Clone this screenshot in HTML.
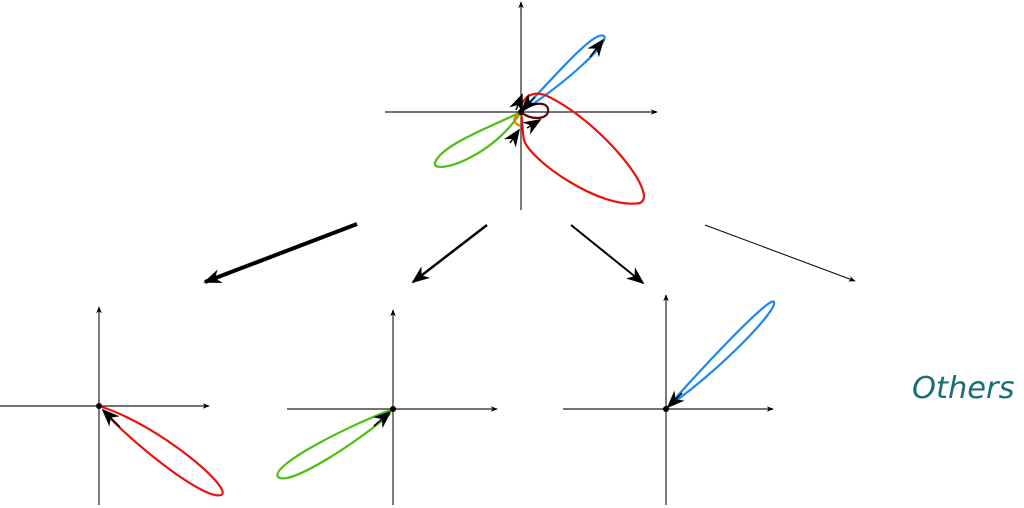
<!DOCTYPE html>
<html><head><meta charset="utf-8"><style>html,body{margin:0;padding:0;background:#fff;width:1024px;height:508px;overflow:hidden}</style></head>
<body>
<svg width="1024" height="508" viewBox="0 0 1024 508" xmlns="http://www.w3.org/2000/svg">
<defs>
<marker id="ah" viewBox="0 0 10 10" refX="9" refY="5" markerWidth="7" markerHeight="7" orient="auto" markerUnits="userSpaceOnUse"><path d="M0,1 L10,5 L0,9 L3,5z" fill="#000"/></marker>
<marker id="big" viewBox="0 0 10 10" refX="9" refY="5" markerWidth="18" markerHeight="18" orient="auto" markerUnits="userSpaceOnUse"><path d="M0,1 L10,5 L0,9 L3,5z" fill="#000"/></marker>
</defs>
<g stroke="#222" stroke-width="1.2" fill="none">
<line x1="385" y1="112" x2="657" y2="112" marker-end="url(#ah)"/>
<line x1="521" y1="210" x2="521" y2="2" marker-end="url(#ah)"/>
<line x1="0" y1="406" x2="209" y2="406" marker-end="url(#ah)"/>
<line x1="99" y1="505" x2="99" y2="307" marker-end="url(#ah)"/>
<line x1="287" y1="409" x2="497" y2="409" marker-end="url(#ah)"/>
<line x1="393" y1="505" x2="393" y2="310" marker-end="url(#ah)"/>
<line x1="563" y1="409" x2="773" y2="409" marker-end="url(#ah)"/>
<line x1="666" y1="505" x2="666" y2="295" marker-end="url(#ah)"/>
</g>
<g fill="none" stroke-width="2.2">
<path d="M521,112 C560,70 595,30 604,36 C610,42 570,80 521,112" stroke="#1a88f0"/>
<path d="M521,112 C495,125 440,145 435,163 C432,175 490,160 521,112" stroke="#4cbf10"/>
<path d="M521,112 C520,100 530,90 545,95 C600,120 660,195 640,203 C600,210 530,160 524,140 C522,130 523,125 521,112" stroke="#e8140c"/>
<path d="M521,112 C530,102 550,100 548,112 C546,120 530,120 521,112" stroke="#5a0808"/>
<path d="M521,112 C512,118 512,122 520,126" stroke="#f07c00"/>
</g>
<g fill="none" stroke="#000" stroke-width="1.5">
<line x1="590" y1="57" x2="603" y2="40" marker-end="url(#big)"/>
<line x1="535" y1="97" x2="522" y2="110" marker-end="url(#big)"/>
<line x1="516" y1="110" x2="522" y2="95" marker-end="url(#big)"/>
<line x1="510" y1="143" x2="519" y2="130" marker-end="url(#big)"/>
<line x1="527" y1="128" x2="540" y2="120" marker-end="url(#big)"/>
</g>
<g fill="none" stroke-width="2.2">
<path d="M99,406 C160,425 235,490 221,495 C205,500 140,450 104,412" stroke="#e8140c"/>
<path d="M393,409 C350,425 270,465 278,477 C290,487 360,440 390,414" stroke="#4cbf10"/>
<path d="M666,409 C700,370 770,295 774,302 C778,310 720,370 670,405" stroke="#1a88f0"/>
</g>
<g stroke="#000" stroke-width="1.5" fill="none">
<line x1="120" y1="427" x2="103" y2="410" marker-end="url(#big)"/>
<line x1="374" y1="426" x2="390" y2="412" marker-end="url(#big)"/>
<line x1="682" y1="393" x2="668" y2="407" marker-end="url(#big)"/>
</g>
<g fill="#000"><circle cx="99" cy="406" r="3"/><circle cx="393" cy="409" r="3"/><circle cx="666" cy="409" r="3"/><circle cx="521" cy="112" r="3"/></g>
<line x1="357" y1="224" x2="205" y2="282" stroke="#000" stroke-width="4" marker-end="url(#big)"/>
<line x1="487" y1="225" x2="413" y2="282" stroke="#000" stroke-width="2.5" marker-end="url(#big)"/>
<line x1="571" y1="225" x2="643" y2="283" stroke="#000" stroke-width="2" marker-end="url(#big)"/>
<line x1="705" y1="225" x2="855" y2="281" stroke="#000" stroke-width="1" marker-end="url(#ah)"/>
<text x="912" y="398" font-family="DejaVu Sans, sans-serif" font-style="italic" font-size="30.5" fill="#1a6e78">Others</text>
</svg>
</body></html>
